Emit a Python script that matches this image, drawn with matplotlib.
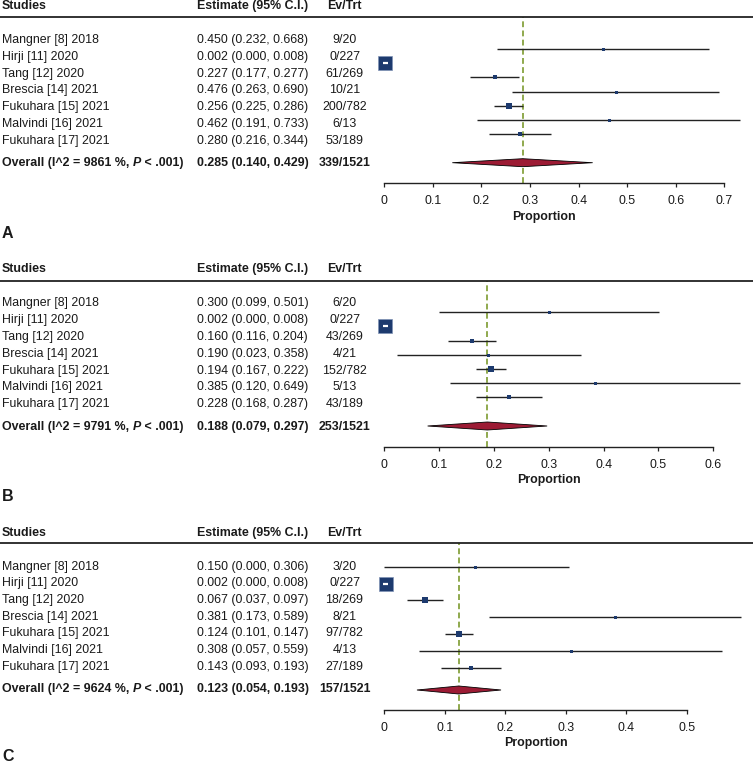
"""
Forest plots of pooled proportions (three outcomes, panels A-C).
"""

import matplotlib
import matplotlib.pyplot as plt
from matplotlib.lines import Line2D
from matplotlib.patches import Polygon

matplotlib.use('Agg')

plt.rcParams['font.family'] = ['Liberation Sans', 'DejaVu Sans']

# Study data
studies = [
    'Mangner [8] 2018',
    'Hirji [11] 2020',
    'Tang [12] 2020',
    'Brescia [14] 2021',
    'Fukuhara [15] 2021',
    'Malvindi [16] 2021',
    'Fukuhara [17] 2021',
]
treated = [20, 227, 269, 21, 782, 13, 189]

# Panel A
est_a = [0.450, 0.002, 0.227, 0.476, 0.256, 0.462, 0.280]
lo_a = [0.232, 0.000, 0.177, 0.263, 0.225, 0.191, 0.216]
hi_a = [0.668, 0.008, 0.277, 0.690, 0.286, 0.733, 0.344]
events_a = [9, 0, 61, 10, 200, 6, 53]
pooled_a = [0.285, 0.140, 0.429]
i2_a = 9861
ticks_a = [0, 0.1, 0.2, 0.3, 0.4, 0.5, 0.6, 0.7]

# Panel B
est_b = [0.300, 0.002, 0.160, 0.190, 0.194, 0.385, 0.228]
lo_b = [0.099, 0.000, 0.116, 0.023, 0.167, 0.120, 0.168]
hi_b = [0.501, 0.008, 0.204, 0.358, 0.222, 0.649, 0.287]
events_b = [6, 0, 43, 4, 152, 5, 43]
pooled_b = [0.188, 0.079, 0.297]
i2_b = 9791
ticks_b = [0, 0.1, 0.2, 0.3, 0.4, 0.5, 0.6]

# Panel C
est_c = [0.150, 0.002, 0.067, 0.381, 0.124, 0.308, 0.143]
lo_c = [0.000, 0.000, 0.037, 0.173, 0.101, 0.057, 0.093]
hi_c = [0.306, 0.008, 0.097, 0.589, 0.147, 0.559, 0.193]
events_c = [3, 0, 18, 8, 97, 4, 27]
pooled_c = [0.123, 0.054, 0.193]
i2_c = 9624
ticks_c = [0, 0.1, 0.2, 0.3, 0.4, 0.5]

# Figure geometry (pixels)
W, H = 753, 767
X0 = 384.3          # pixel position of proportion 0
COL_STUDY = 2
COL_EST = 197
COL_EV = 344.5
FS = 8.9

TEXT = '#1a1a1a'
NAVY = '#1d3a6e'
RED = '#9c1b34'
GREEN = '#7d9b30'
LINE = '#222222'

panels = [
    dict(letter='A', est=est_a, lo=lo_a, hi=hi_a, ev=events_a, pooled=pooled_a,
         i2=i2_a, ticks=ticks_a,
         head=6, rule=17, text0=40, text_step=16.83, text_pool=163.3,
         row0=49, row_step=14.2, pool_y=162.7, axis=183.3, axis_end=724.3,
         label_x=544, label_y=217, letter_y=233),
    dict(letter='B', est=est_b, lo=lo_b, hi=hi_b, ev=events_b, pooled=pooled_b,
         i2=i2_b, ticks=ticks_b,
         head=269.3, rule=281, text0=303.3, text_step=16.8, text_pool=426.7,
         row0=312.3, row_step=14.17, pool_y=426, axis=447.3, axis_end=713.3,
         label_x=549, label_y=480, letter_y=496.7),
    dict(letter='C', est=est_c, lo=lo_c, hi=hi_c, ev=events_c, pooled=pooled_c,
         i2=i2_c, ticks=ticks_c,
         head=532.7, rule=543.3, text0=566.7, text_step=16.67, text_pool=689.3,
         row0=566.7, row_step=16.8, pool_y=690, axis=710, axis_end=686.7,
         label_x=536, label_y=742.7, letter_y=756.7),
]

fig = plt.figure(figsize=(W / 100, H / 100), dpi=100)


def fx(px):
    return px / W


def fy(py):
    return 1 - py / H


def put(x, y, s, **kw):
    kw.setdefault('fontsize', FS)
    kw.setdefault('color', TEXT)
    kw.setdefault('va', 'center')
    return fig.text(fx(x), fy(y), s, **kw)


for p in panels:
    # Column headers and rule
    put(COL_STUDY, p['head'], 'Studies', weight='bold')
    put(COL_EST, p['head'], 'Estimate (95% C.I.)', weight='bold')
    put(COL_EV, p['head'], 'Ev/Trt', weight='bold', ha='center')
    fig.add_artist(Line2D([0, 1], [fy(p['rule'])] * 2, transform=fig.transFigure,
                          color=LINE, lw=1.3))

    # Study rows
    for i, name in enumerate(studies):
        y = p['text0'] + i * p['text_step']
        put(COL_STUDY, y, name)
        put(COL_EST, y, f"{p['est'][i]:.3f} ({p['lo'][i]:.3f}, {p['hi'][i]:.3f})")
        put(COL_EV, y, f"{p['ev'][i]}/{treated[i]}", ha='center')

    # Overall row (bold, with italic P)
    y = p['text_pool']
    t1 = put(COL_STUDY, y, f"Overall (I^2 = {p['i2']} %, ", weight='bold')
    t2 = fig.add_artist(plt.Annotation('P', xy=(1, 0), xycoords=t1, va='bottom', ha='left',
                                       fontsize=FS, color=TEXT, weight='bold', style='italic'))
    fig.add_artist(plt.Annotation(' < .001)', xy=(1, 0), xycoords=t2, va='bottom', ha='left',
                                  fontsize=FS, color=TEXT, weight='bold'))
    pe, pl, ph = p['pooled']
    put(COL_EST, y, f"{pe:.3f} ({pl:.3f}, {ph:.3f})", weight='bold')
    put(COL_EV, y, f"{sum(p['ev'])}/{sum(treated)}", weight='bold', ha='center')

    # Panel letter
    put(COL_STUDY, p['letter_y'], p['letter'], weight='bold', fontsize=11.5)

    # Forest axes: x in proportion, y in pixel rows
    ax = fig.add_axes([fx(X0), fy(p['axis']), 1 - fx(X0), (p['axis'] - p['rule']) / H])
    ppu = (p['axis_end'] - X0) / p['ticks'][-1]
    ax.set_xlim(0, (W - X0) / ppu)
    ax.set_ylim(p['axis'], p['rule'])
    ax.patch.set_visible(False)
    for side in ('top', 'left', 'right'):
        ax.spines[side].set_visible(False)
    ax.spines['bottom'].set_bounds(0, p['ticks'][-1])
    ax.spines['bottom'].set_color(LINE)
    ax.spines['bottom'].set_linewidth(1.0)
    ax.set_yticks([])
    ax.set_xticks(p['ticks'])
    ax.set_xticklabels(['0' if t == 0 else f'{t:g}' for t in p['ticks']])
    ax.tick_params(axis='x', direction='out', length=2.8, width=0.9, pad=5.5,
                   labelsize=FS, colors=LINE, labelcolor=TEXT)

    ax.axvline(pe, color=GREEN, lw=1.2, ls=(0, (3.5, 2)), zorder=1)

    # Study estimates: square side grows with precision
    for i in range(len(studies)):
        y = p['row0'] + i * p['row_step']
        lo, hi, e = p['lo'][i], p['hi'][i], p['est'][i]
        ax.plot([lo, hi], [y, y], color=LINE, lw=1.0, zorder=2, clip_on=False,
                solid_capstyle='butt')
        side_px = max(3.0, 1.3 * (1 / (hi - lo)) ** 0.5)
        ax.plot([e], [y], 's', ms=side_px * 0.72, mfc=NAVY, mec='#8092b5',
                mew=0.5 if side_px > 8 else 0, zorder=3, clip_on=False)
        if side_px / ppu > (hi - lo):
            ax.plot([e - 2.6 / ppu, e + 2.6 / ppu], [y, y], color='white', lw=1.6,
                    zorder=4, solid_capstyle='butt', clip_on=False)

    yp = p['pool_y']
    ax.add_patch(Polygon([(pl, yp), (pe, yp - 4), (ph, yp), (pe, yp + 4)],
                         closed=True, facecolor=RED, edgecolor='black', lw=0.6, zorder=3))

    put(p['label_x'], p['label_y'], 'Proportion', weight='bold', ha='center')

plt.savefig('out.png', dpi=100)
plt.close()
